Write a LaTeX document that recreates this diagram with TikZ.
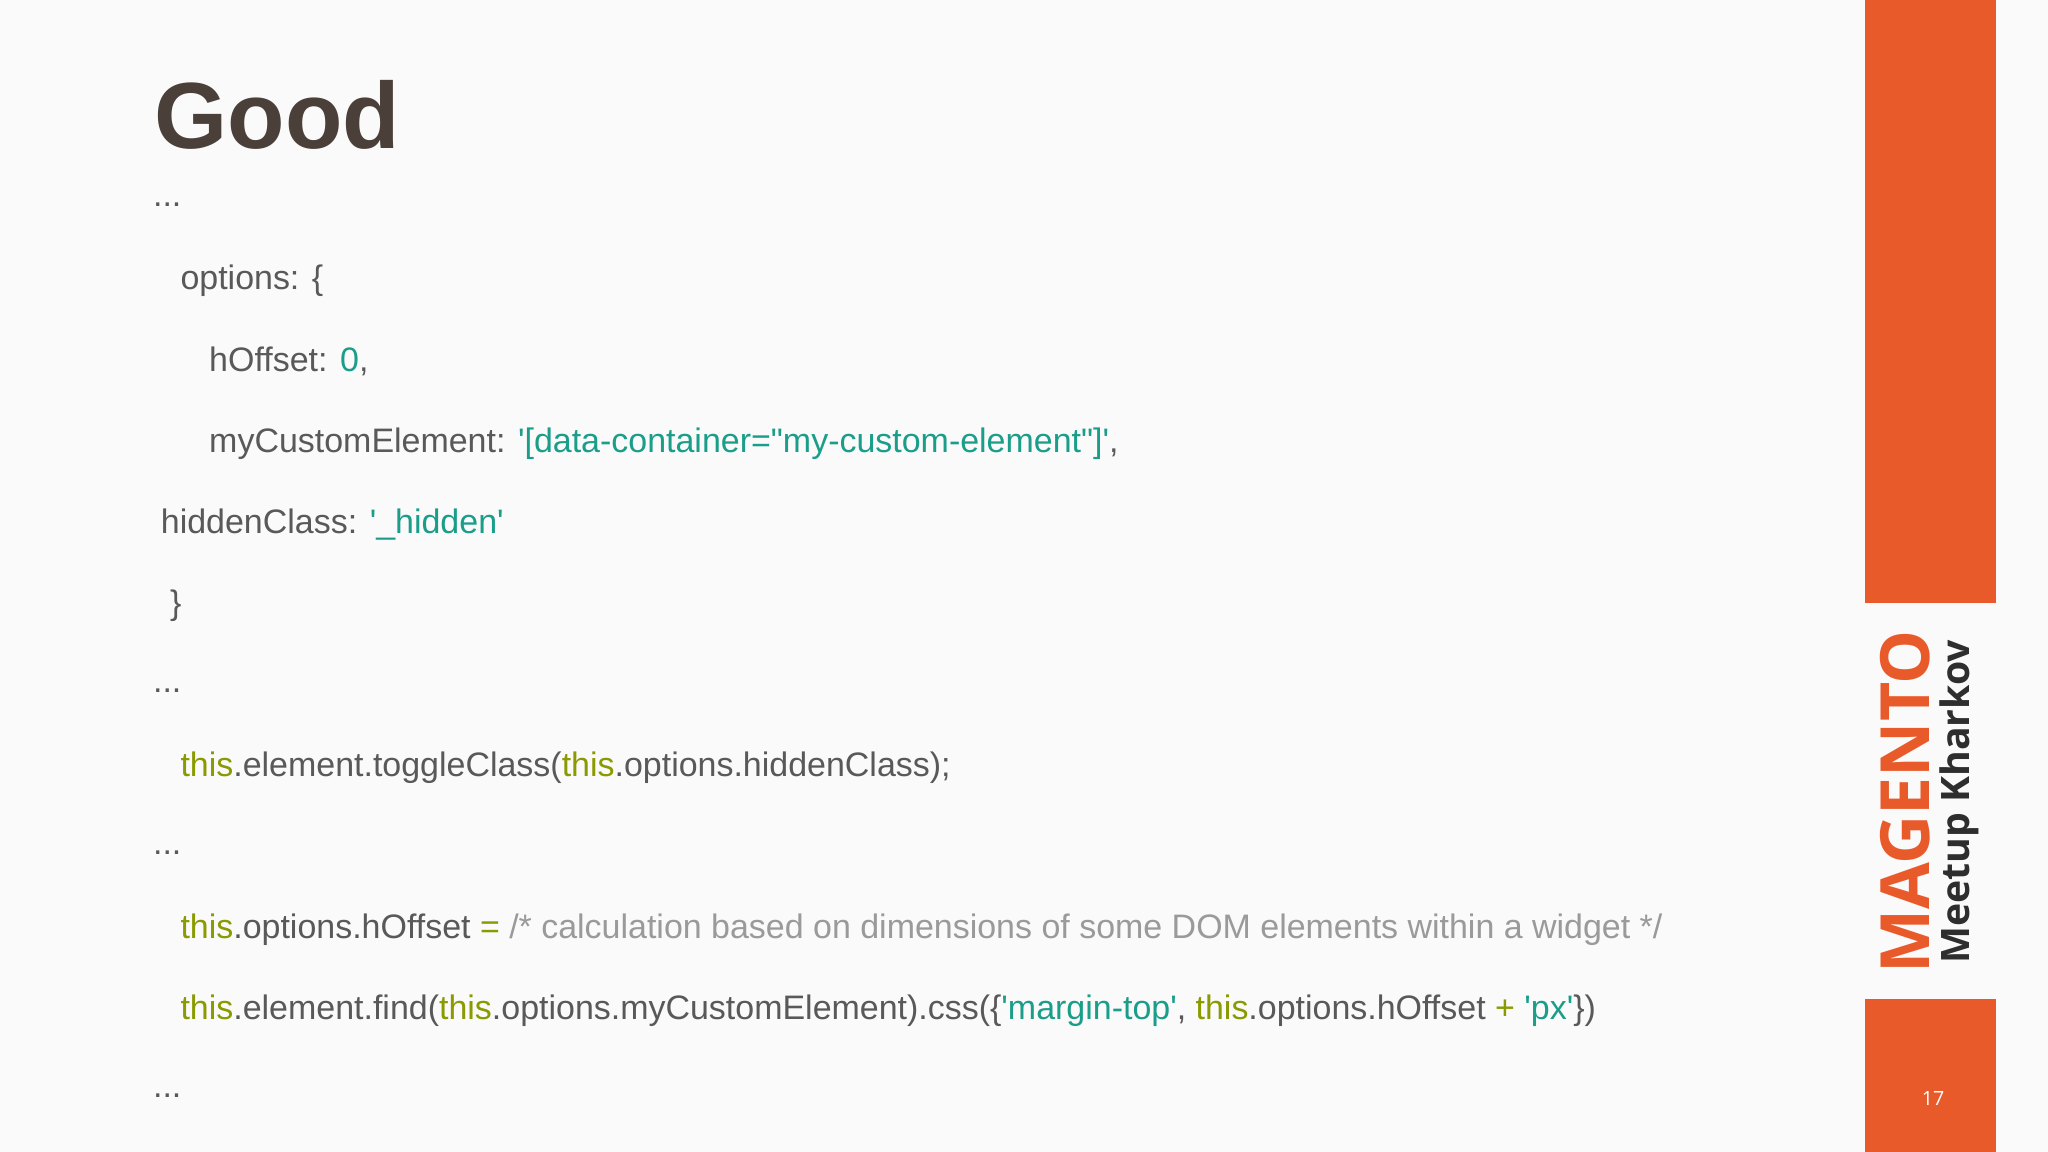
\documentclass[tikz,border=0pt]{standalone}
\usepackage{fontspec}
\setmainfont{Liberation Sans}
\newfontfamily\logofont{Open Sans}
\definecolor{txt}{HTML}{595959}
\definecolor{str}{HTML}{1A9E8A}
\definecolor{kw}{HTML}{8A9A00}
\definecolor{cmt}{HTML}{9A9A9A}
\definecolor{ttl}{HTML}{4A3F39}
\definecolor{org}{HTML}{E95A2B}
\definecolor{dark}{HTML}{2E2E2E}
\newcommand{\kwt}{\textcolor{kw}{this}}
\newcommand{\st}[1]{\textcolor{str}{#1}}
\newcommand{\sq}{\textquotesingle}
\newcommand{\dq}{\textquotedbl}
\tikzset{code/.style={anchor=west,inner sep=0pt,text=txt,font=\fontsize{26}{30}\selectfont}}
\begin{document}
\begin{tikzpicture}[x=1pt,y=-1pt]
\useasboundingbox (0,0) rectangle (1568,882);
\fill[white!98!black] (0,0) rectangle (1568,882);
\fill[org] (1428,0) rectangle (1528,462);
\fill[org] (1428,765) rectangle (1528,882);
\node[anchor=west,inner sep=0pt,text=ttl,font=\fontsize{72}{76}\selectfont\bfseries] (title) at (118,88) {Good};
\node[code] (l1) at (117,157) {...};
\node[code] (l2) at (138,215) {options: \{};
\node[code] (l3) at (160,277) {hOffset: \st{0},};
\node[code] (l4) at (160,340) {myCustomElement: \st{\sq[data-container=\dq my-custom-element\dq]\sq},};
\node[code] (l5) at (123,402) {hiddenClass: \st{\sq\_hidden\sq}};
\node[code] (l6) at (130,464) {\}};
\node[code] (l7) at (117,529) {...};
\node[code] (l8) at (138,588) {\kwt.element.toggleClass(\kwt.options.hiddenClass);};
\node[code] (l9) at (117,653) {...};
\node[code] (l10) at (138,712) {\kwt.options.hOffset \textcolor{kw}{=} \textcolor{cmt}{/* calculation based on dimensions of some DOM elements within a widget */}};
\node[code] (l11) at (138,774) {\kwt.element.find(\kwt.options.myCustomElement).css(\{\st{\sq margin-top\sq}, \kwt.options.hOffset \textcolor{kw}{+} \st{\sq px\sq}\})};
\node[code] (l12) at (117,839) {...};
\node[rotate=90,inner sep=0pt,text=org,font=\logofont\fontsize{52}{52}\selectfont\bfseries] (mag) at (1459,614) {MAGENTO};
\node[rotate=90,inner sep=0pt,text=dark,font=\logofont\fontsize{30}{30}\selectfont\bfseries] (meet) at (1500,614) {Meetup Kharkov};
\node[text=white,font=\logofont\fontsize{15}{15}\selectfont] (num) at (1480,841) {17};
\end{tikzpicture}
\end{document}
